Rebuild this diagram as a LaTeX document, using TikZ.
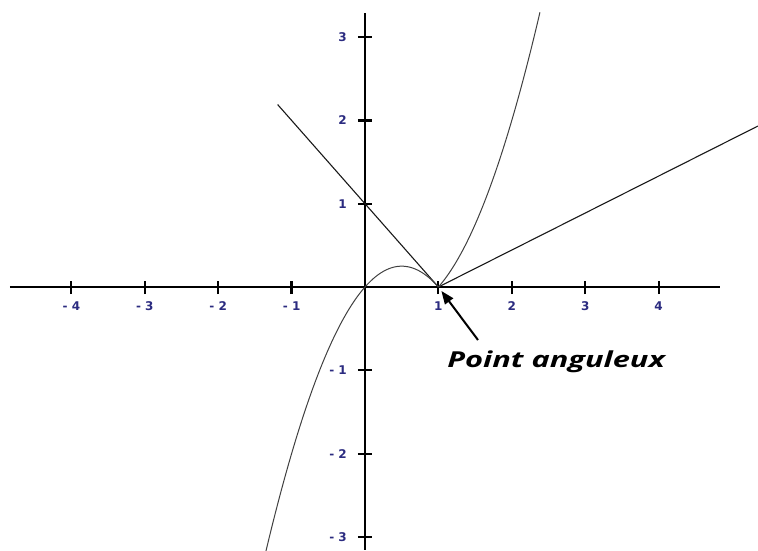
\documentclass[tikz,border=0pt]{standalone}
\usepackage{fontspec}
\usetikzlibrary{arrows.meta}
\newfontfamily\labfont{DejaVu Sans}
\newfontfamily\ptfont{Open Sans}
\definecolor{navy}{HTML}{2B2B80}
\begin{document}
\begin{tikzpicture}[x=73.4pt,y=83.3pt,
  axis/.style={line width=2.4pt,black},
  tickmark/.style={line width=2.2pt,black},
  ticklab/.style={font=\labfont\bfseries\fontsize{12}{13}\selectfont,text=navy,inner sep=0pt},
  tangent/.style={line width=1.1pt,black!90},
  curve/.style={line width=1pt,black!75},
  pointer/.style={line width=2pt,-{Triangle[length=13pt,width=10pt]}},
  lbl/.style={font=\ptfont\bfseries\itshape\fontsize{22}{24}\selectfont,inner sep=0pt,xscale=1.4}]
\useasboundingbox (-365pt,-263pt) rectangle (393pt,287pt);
% axes
\draw[axis] (-355pt,0) -- (355pt,0);
\draw[axis] (0,274pt) -- (0,-263pt);
% x ticks and labels
\foreach \i/\t in {-4/- 4,-3/- 3,-2/- 2,-1/- 1,1/1,2/2,3/3,4/4}{
  \draw[tickmark] ([yshift=-7pt]\i,0) -- ([yshift=6pt]\i,0);
  \node[ticklab,anchor=center] (xl\i) at ([yshift=-19pt]\i,0) {\t};
}
% y ticks and labels
\foreach \i/\t in {-3/- 3,-2/- 2,-1/- 1,1/1,2/2,3/3}{
  \draw[tickmark] ([xshift=-7pt]0,\i) -- ([xshift=7pt]0,\i);
  \node[ticklab,anchor=east] (yl\i) at ([xshift=-18pt]0,\i) {\t};
}
% key points
\coordinate (P) at (1,0);
\coordinate (Lend) at (-1.19,2.19);
\coordinate (Rend) at (393pt,161pt);
% tangents
\draw[tangent] (Lend) -- (P);
\draw[tangent] (P) -- (Rend);
% curve f(x)=x|x-1|
\draw[curve,domain=-1.355:1,samples=150] plot (\x,{\x*abs(\x-1)});
\draw[curve,domain=1:2.385,samples=100] plot (\x,{\x*abs(\x-1)});
% label and arrow
\node[lbl,anchor=base west] (pa) at (82pt,-80pt) {Point anguleux};
\coordinate (tail) at (113pt,-53pt);
\draw[pointer,shorten >=5pt] (tail) -- (P);
\end{tikzpicture}
\end{document}
